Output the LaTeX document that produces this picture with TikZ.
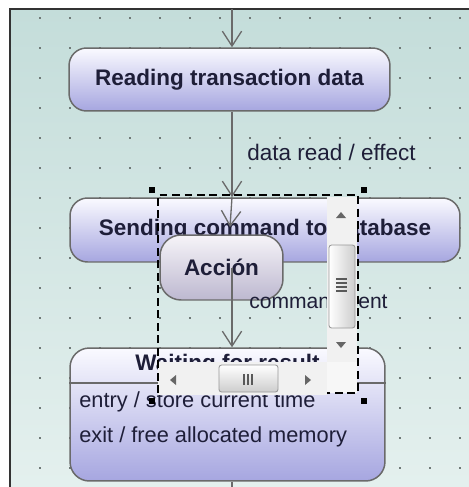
\documentclass[tikz,border=0pt]{standalone}
\usepackage{fontspec}
\setmainfont{Liberation Sans}
\usetikzlibrary{arrows.meta, calc}

\definecolor{canvastop}{HTML}{C4DDDA}
\definecolor{canvasbot}{HTML}{E4F0EE}
\definecolor{statetop}{HTML}{FAFAFF}
\definecolor{statebot}{HTML}{A6A6E0}
\definecolor{actiontop}{HTML}{F6F4F8}
\definecolor{actionbot}{HTML}{BDB8D0}
\definecolor{edgegray}{HTML}{6A6A6A}
\definecolor{inkblue}{HTML}{1E1E38}
\definecolor{barlight}{HTML}{F1F1F1}
\definecolor{thumbdark}{HTML}{CDCDCD}
\definecolor{dotgray}{HTML}{6F7A78}

\newcommand{\diafont}{\fontsize{12.8}{15}\selectfont}
\newcommand{\bodyfont}{\fontsize{12.4}{15}\selectfont}

\tikzset{
  statebox/.style={draw=edgegray, line width=0.85pt, rounded corners=10pt,
    top color=statetop, bottom color=statebot, font=\bfseries\diafont,
    text=inkblue, inner sep=0pt},
  actionbox/.style={draw=edgegray, line width=0.85pt, rounded corners=12pt,
    top color=actiontop, bottom color=actionbot, font=\bfseries\diafont,
    text=inkblue, inner sep=0pt},
  lbl/.style={font=\diafont, text=inkblue, inner sep=0pt},
  trans/.style={draw=edgegray, line width=0.75pt,
    -{Straight Barb[length=8.5pt, width=11pt]}},
  thumb/.style={draw=black!40, line width=0.5pt, rounded corners=1.5pt},
  frame/.style={draw=black, line width=1.7pt, dash pattern=on 4.5pt off 2.6pt}
}

\begin{document}
\begin{tikzpicture}[x=0.02cm, y=-0.02cm]
  \useasboundingbox (0,0) rectangle (469,487);
  % Canvas
  \fill[white] (0,0) rectangle (469,487);
  \shade[top color=canvastop, bottom color=canvasbot] (10,9) rectangle (469,487);
  \draw[line width=0.85pt, black!80] (10,487) -- (10,9) -- (469,9);

  % Grid dots
  \foreach \gx in {40,70,...,460}
    \foreach \gy in {18,48,...,468}
      \fill[dotgray] (\gx-1,\gy-1) rectangle (\gx+1,\gy+1);

  % States
  \node[statebox, minimum width=6.42cm, minimum height=1.26cm] (reading) at (229.5,79.5) {Reading transaction data};
  \node[statebox, minimum width=7.8cm, minimum height=1.28cm] (sending) at (265,230) {Sending command to database};
  \node[statebox, rounded corners=11pt, minimum width=6.3cm, minimum height=2.66cm] (waiting) at (227.5,414.5) {};
  \coordinate (sep) at (0,383);
  \draw[edgegray, line width=0.85pt] (waiting.west |- sep) -- (waiting.east |- sep);
  \node[font=\bfseries\diafont, text=inkblue, inner sep=0pt] (waittitle) at (227.5,365) {Waiting for result};
  \node[lbl, font=\bodyfont, anchor=west] (entry) at (79,402) {entry / store current time};
  \node[lbl, font=\bodyfont, anchor=west] (exit) at (79,437) {exit / free allocated memory};

  % Transitions
  \coordinate (tin) at (232,9);
  \coordinate (tout) at (232,487);
  \draw[trans] (tin) -- (tin |- reading.north);
  \draw[trans] (reading.south -| tin) -- (sending.north -| tin);
  \node[lbl, anchor=west] (readlbl) at (247,152) {data read / effect};
  \coordinate (drop) at (230,227);
  \draw[trans] (sending.north -| tin) -- (drop);

  % Action being edited
  \node[actionbox, minimum width=2.46cm, minimum height=1.3cm] (accion) at (221.5,267.5) {Acción};
  \coordinate (cmid) at (232,268);
  \draw[trans] (cmid) -- (waiting.north -| cmid);
  \node[lbl, font=\fontsize{12}{15}\selectfont, anchor=west] (sentlbl) at (249,301) {command sent};
  \draw[edgegray, line width=0.75pt] (waiting.south -| tin) -- (tout);

  % Vertical scrollbar
  \fill[barlight] (327,197) rectangle (357,362);
  \draw[thumb, left color=white, right color=thumbdark] (329,245) rectangle (355,328);
  \foreach \gy in {279,283,287,291}
    \draw[black!65, line width=0.6pt] (336,\gy) -- (347,\gy);
  \fill[black!60] (336,218) -- (346,218) -- (341,212) -- cycle;
  \fill[black!60] (336,342) -- (346,342) -- (341,348) -- cycle;

  % Horizontal scrollbar
  \fill[barlight] (158,362) rectangle (327,395);
  \fill[barlight!60!white] (327,362) rectangle (357,393);
  \draw[thumb, top color=white, bottom color=thumbdark] (219,365) rectangle (278,392);
  \foreach \gx in {244,248,252}
    \draw[black!65, line width=0.6pt] (\gx,374) -- (\gx,385);
  \fill[black!60] (176,375) -- (176,385) -- (170,380) -- cycle;
  \fill[black!60] (305,375) -- (305,385) -- (311,380) -- cycle;

  % Edit frame and handles
  \draw[frame] (158,393) -- (158,195) -- (358,195) -- (358,393) -- (327,393);
  \foreach \hx/\hy in {152/190,364/190,364/401,152/401}
    \fill[black] (\hx-3,\hy-3) rectangle (\hx+3,\hy+3);
\end{tikzpicture}
\end{document}
